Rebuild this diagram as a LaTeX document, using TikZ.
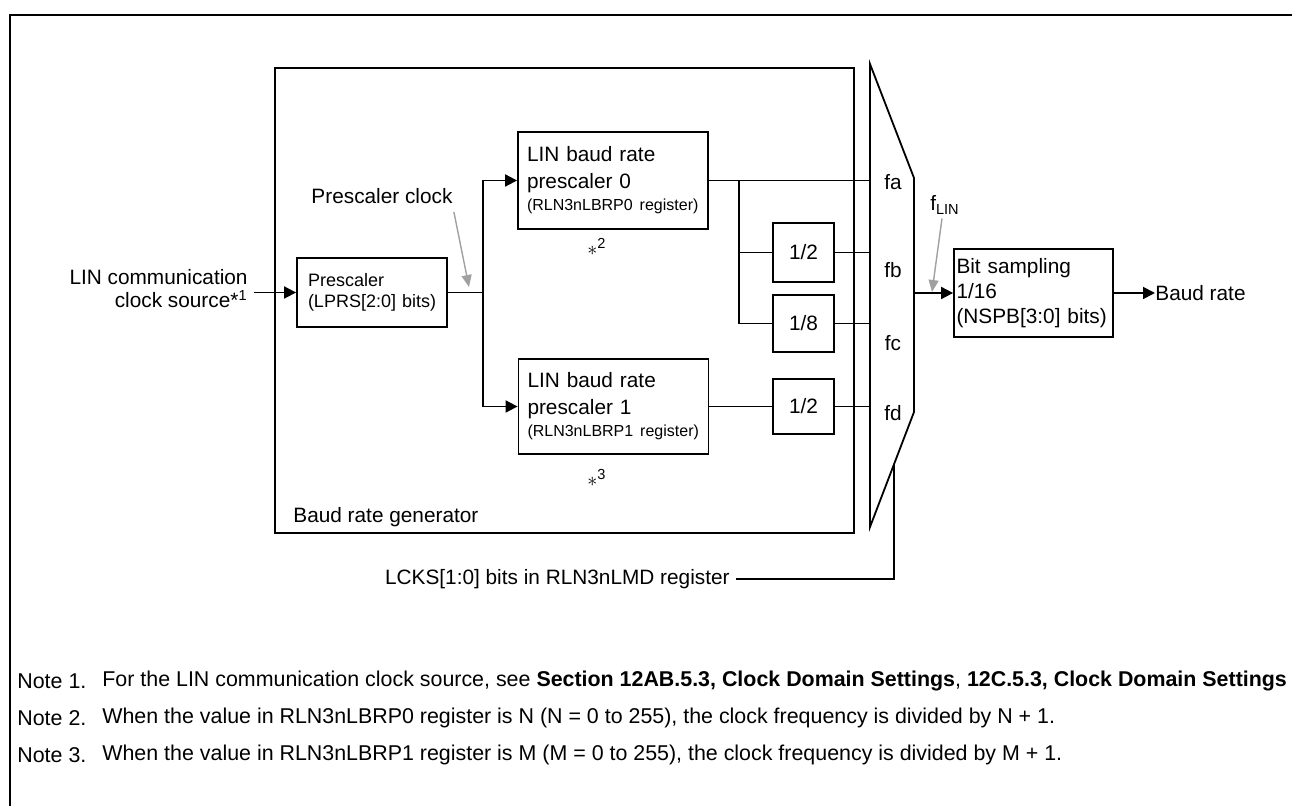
\documentclass[tikz,border=0pt]{standalone}
\usepackage{fontspec}
\setmainfont{Liberation Sans}
\usetikzlibrary{arrows.meta,positioning,calc}
\definecolor{ink}{HTML}{000000}
\definecolor{pointer}{HTML}{A0A0A0}
\tikzset{
  blk/.style={draw=ink,line width=0.9pt,inner sep=0pt},
  txt/.style={font=\fontsize{10.4}{12}\selectfont,inner sep=0pt},
  sig/.style={draw=ink,line width=0.9pt},
  sigarr/.style={sig,-{Triangle[length=6pt,width=6pt]}},
  ptrarr/.style={draw=pointer,line width=0.7pt,
                 -{Triangle[length=6pt,width=5pt]}},
  note/.style={anchor=west,inner sep=0pt,font=\fontsize{10.7}{12}\selectfont}
}
\begin{document}
\begin{tikzpicture}[x=0.5pt,y=-0.5pt]
    \path[use as bounding box] (0,0) rectangle (1292,806);
    \draw[line width=1.4pt] (10,806) -- (10,15) -- (1292,15);
    % baud rate generator frame
    \node[blk,minimum width=289.5pt,minimum height=232.5pt] (brg) at (564.5,300.5) {};
    \node[txt,anchor=west] (brglbl) at (293,517) {Baud rate generator};
    % input and prescaler
    \node[txt,anchor=east,align=right,font=\fontsize{10.4}{11.5}\selectfont] (src) at (248,288.5)
      {LIN communication\\clock source*\textsuperscript{1}};
    \node[blk,minimum width=75pt,minimum height=34.5pt,text width=64pt,align=left,
          font=\fontsize{9}{10.5}\selectfont] (pre) at (372,292.5)
      {Prescaler\\\mbox{(LPRS[2:0] bits)}};
    \node[txt] (pclk) at (382,196) {Prescaler clock};
    \coordinate (pclk-tip) at (469,287);
    \coordinate (split) at (483,292.5);
    % the two baud rate prescalers
    \node[blk,minimum width=95pt,minimum height=48.5pt,text width=86pt,align=left,
          font=\fontsize{10.4}{13.5}\selectfont] (lbrp0) at (613,180.5)
      {LIN baud rate\\prescaler 0\\[-2.5pt]{\fontsize{8}{9.6}\selectfont (RLN3nLBRP0 register)}};
    \node[blk,minimum width=95pt,minimum height=47.5pt,text width=86pt,align=left,
          font=\fontsize{10.4}{13.5}\selectfont] (lbrp1) at (613.5,406.5)
      {LIN baud rate\\prescaler 1\\[-2.5pt]{\fontsize{8}{9.6}\selectfont (RLN3nLBRP1 register)}};
    \node[txt] (mark2) at (597,247) {$\ast$\textsuperscript{2}};
    \node[txt] (mark3) at (597,478) {$\ast$\textsuperscript{3}};
    % dividers
    \node[blk,txt,minimum width=30.5pt,minimum height=29.5pt] (div2a) at (803.5,252.5) {1/2};
    \node[blk,txt,minimum width=30.5pt,minimum height=28.5pt] (div8) at (803.5,323.5) {1/8};
    \node[blk,txt,minimum width=30.5pt,minimum height=27.5pt] (div2b) at (803.5,406.5) {1/2};
    \coordinate (br) at (739,180.5);
    % selector
    \coordinate (mux-nw) at (870,64);
    \coordinate (mux-ne) at (914,178);
    \coordinate (mux-se) at (914,412);
    \coordinate (mux-sw) at (870,527);
    \draw[sig] (mux-nw) -- (mux-ne) -- (mux-se) -- (mux-sw) -- cycle;
    \node[txt] (fa) at (893,182) {fa};
    \node[txt] (fb) at (893,270) {fb};
    \node[txt] (fc) at (893,343) {fc};
    \node[txt] (fd) at (893,413) {fd};
    \coordinate (mux-out) at (914,293);
    \coordinate (mux-sel) at (894,464);
    \node[txt,anchor=east] (lcks) at (730,579) {LCKS[1:0] bits in RLN3nLMD register};
    % bit sampling and output
    \node[blk,minimum width=79.5pt,minimum height=44pt,text width=77pt,align=left,
          font=\fontsize{10.4}{12.5}\selectfont] (bits) at (1033.5,293)
      {Bit sampling\\1/16\\(NSPB[3:0] bits)};
    \node[txt] (flin) at (945,205) {f\textsubscript{LIN}};
    \coordinate (flin-tip) at (932,292);
    \node[txt,anchor=west] (outlbl) at (1155,293) {Baud rate};
    % connectors
    \draw[sigarr] ([xshift=3pt]src.east |- pre.west) -- (pre.west);
    \draw[sig] (pre.east) -- (split);
    \draw[sigarr] (split) |- (lbrp0.west);
    \draw[sigarr] (split) |- (lbrp1.west);
    \draw[sig] (lbrp0.east) -- (lbrp0.east -| mux-nw);
    \draw[sig] (br) |- (div8.west);
    \draw[sig] (br |- div2a.west) -- (div2a.west);
    \draw[sig] (div2a.east) -- (div2a.east -| mux-nw);
    \draw[sig] (div8.east) -- (div8.east -| mux-nw);
    \draw[sig] (lbrp1.east) -- (div2b.west);
    \draw[sig] (div2b.east) -- (div2b.east -| mux-nw);
    \draw[sigarr] (mux-out) -- (bits.west);
    \draw[sigarr] (bits.east) -- (outlbl.west);
    \draw[sig] (mux-sel) |- ([xshift=3pt]lcks.east);
    \draw[ptrarr] ($(pclk.south east)+(1,8)$) -- (pclk-tip);
    \draw[ptrarr] ($(flin.south)+(-3,4)$) -- (flin-tip);
    % notes
    \node[note] (n1tag) at (17,681) {Note 1.};
    \node[note] (n1) at (102,681) {For the LIN communication clock source, see
      \textbf{Section 12AB.5.3, Clock Domain Settings}, \textbf{12C.5.3, Clock Domain Settings}};
    \node[note] (n2tag) at (17,718) {Note 2.};
    \node[note] (n2) at (102,718) {When the value in RLN3nLBRP0 register is N (N = 0 to 255),
      the clock frequency is divided by N + 1.};
    \node[note] (n3tag) at (17,755) {Note 3.};
    \node[note] (n3) at (102,755) {When the value in RLN3nLBRP1 register is M (M = 0 to 255),
      the clock frequency is divided by M + 1.};
\end{tikzpicture}
\end{document}
